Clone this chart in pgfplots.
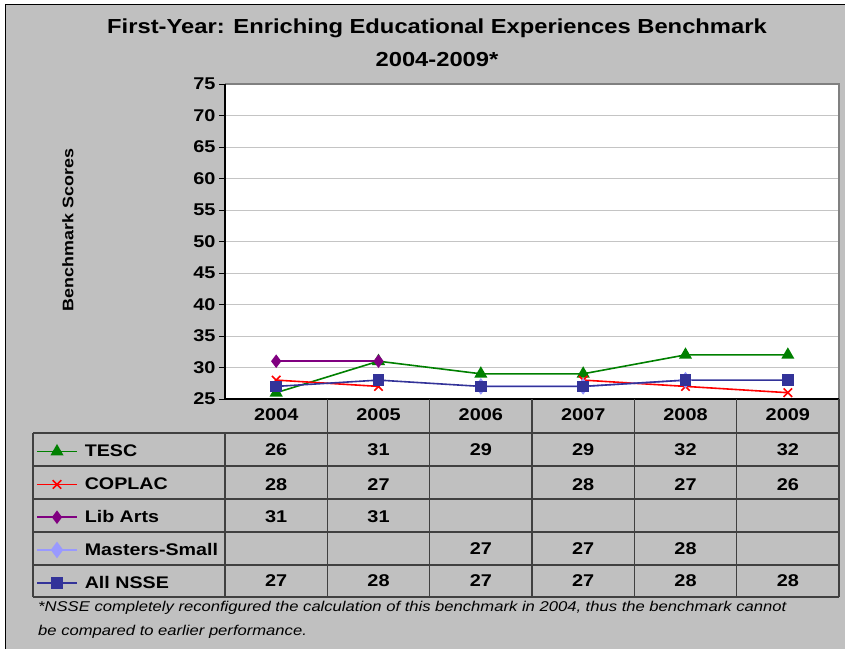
\documentclass[border=0pt]{standalone}
\usepackage{fontspec}
\setmainfont{Liberation Sans}[FakeStretch=1.17]
\usepackage{pgfplots}
\pgfplotsset{compat=1.18}

\definecolor{bggray}{RGB}{192,192,192}
\definecolor{gridgray}{RGB}{196,196,196}
\definecolor{tescgreen}{RGB}{0,128,0}
\definecolor{coplacred}{RGB}{255,0,0}
\definecolor{libpurple}{RGB}{128,0,128}
\definecolor{mastersblue}{RGB}{153,153,255}
\definecolor{nssenavy}{RGB}{51,51,153}

\begin{document}
\begin{tikzpicture}[x=1pt,y=1pt]
\useasboundingbox (0,0) rectangle (845,649);
\fill[white] (0,0) rectangle (845,649);
\fill[bggray] (5,0) rectangle (845,644);
\draw[black, line width=1pt] (5,0) -- (5,644) -- (845,644);

% title
\node[font=\bfseries\fontsize{20.3}{24}\selectfont] at (437,621) {First-Year: Enriching Educational Experiences Benchmark};
\node[font=\bfseries\fontsize{20.3}{24}\selectfont] at (437,589) {2004-2009*};
\node[font=\bfseries\fontsize{15.3}{18}\selectfont, rotate=90] at (68,419) {Benchmark Scores};

\begin{axis}[
    at={(225pt,250pt)}, anchor=south west,
    width=614pt, height=315pt, scale only axis,
    xmin=-0.5, xmax=5.5, ymin=25, ymax=75,
    xtick=\empty, ytick={25,30,...,75},
    ytick pos=left, tick align=outside,
    major tick length=6pt,
    tick style={black, line width=0.8pt},
    axis line style={draw=none},
    axis background/.style={fill=white},
    ymajorgrids, grid style={gridgray, line width=0.9pt},
    yticklabel style={font=\bfseries\fontsize{17}{20}\selectfont,
        /pgf/number format/assume math mode=true},
    unbounded coords=jump,
    clip=false,
    legend image code/.code={\draw[mark repeat=2,mark phase=2,#1]
        plot coordinates {(0pt,0pt) (20pt,0pt) (40pt,0pt)};},
    legend cell align=left,
    legend style={at={(-0.3127,-0.1079)}, anchor=north west,
        draw=none, fill=none,
        font=\bfseries\fontsize{16.8}{20}\selectfont,
        row sep=0pt,
        /tikz/every odd column/.append style={column sep=4pt},
        nodes={inner sep=3pt, minimum height=32.8pt}},
]
\addplot[tescgreen, line width=1.6pt, mark=triangle*, mark size=6pt,
    mark options={solid, fill=tescgreen}]
    coordinates {(0,26) (1,31) (2,29) (3,29) (4,32) (5,32)};
\addlegendentry{TESC}
\addplot[coplacred, line width=1.6pt, mark=x, mark size=6pt]
    coordinates {(0,28) (1,27) (2,nan) (3,28) (4,27) (5,26)};
\addlegendentry{COPLAC}
\addplot[libpurple, line width=1.6pt, mark=diamond*, mark size=5.5pt,
    mark options={fill=libpurple}]
    coordinates {(0,31) (1,31) (2,nan) (3,nan) (4,nan) (5,nan)};
\addlegendentry{Lib Arts}
\addplot[mastersblue, line width=1.6pt, mark=diamond*, mark size=7pt,
    mark options={fill=mastersblue}]
    coordinates {(0,nan) (1,nan) (2,27) (3,27) (4,28) (5,nan)};
\addlegendentry{Masters-Small}
\addplot[nssenavy, line width=1.6pt, mark=square*, mark size=5pt,
    mark options={fill=nssenavy}]
    coordinates {(0,27) (1,28) (2,27) (3,27) (4,28) (5,28)};
\addlegendentry{All NSSE}
\end{axis}

% plot frame
\draw[gray, line width=1.2pt] (225,565) -- (839,565) -- (839,250);
\draw[black, line width=1.2pt] (225,565) -- (225,250) -- (839,250);

% data table grid
\draw[black!75, line width=1.6pt] (33,216) -- (839,216);
\foreach \yy in {183,150,117,84,52}
  \draw[black!75, line width=1.1pt] (33,\yy) -- (839,\yy);
\draw[black!75, line width=1.1pt] (33,216) -- (33,52);
\foreach \xx in {327.3,429.7,532,634.3,736.7}
  \draw[black!75, line width=1.1pt] (\xx,250) -- (\xx,52);
\draw[black!75, line width=1.1pt] (225,216) -- (225,52);
\draw[black!75, line width=1.1pt] (839,250) -- (839,52);

\begin{scope}[every node/.style={font=\bfseries\fontsize{17}{20}\selectfont}]
\foreach \yr [count=\i from 0] in {2004,2005,2006,2007,2008,2009}
  \node at (276.2+102.33*\i,234) {\yr};
\foreach \v [count=\i from 0] in {26,31,29,29,32,32}
  \node at (276.2+102.33*\i,199) {\v};
\foreach \v [count=\i from 0] in {28,27,,28,27,26}
  \node at (276.2+102.33*\i,164) {\v};
\foreach \v [count=\i from 0] in {31,31,,,,}
  \node at (276.2+102.33*\i,132) {\v};
\foreach \v [count=\i from 0] in {,,27,27,28,}
  \node at (276.2+102.33*\i,100) {\v};
\foreach \v [count=\i from 0] in {27,28,27,27,28,28}
  \node at (276.2+102.33*\i,68) {\v};
\end{scope}

% footnote
\node[anchor=west, font=\itshape\fontsize{14.2}{16}\selectfont, inner sep=0pt] at (38,41)
  {*NSSE completely reconfigured the calculation of this benchmark in 2004, thus the benchmark cannot};
\node[anchor=west, font=\itshape\fontsize{14.2}{16}\selectfont, inner sep=0pt] at (38,17)
  {be compared to earlier performance.};
\end{tikzpicture}
\end{document}
